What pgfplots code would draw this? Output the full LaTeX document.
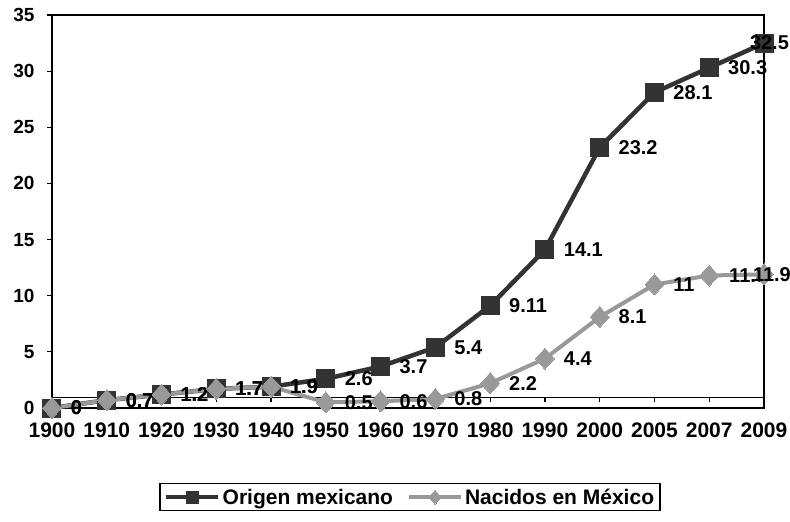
\documentclass[border=0pt]{standalone}
\usepackage{pgfplots}
\usepackage{pgfplotstable}
\pgfplotsset{compat=1.18}
\usepackage{fontspec}
\setmainfont{Liberation Sans}
\definecolor{sone}{HTML}{333333}
\definecolor{stwo}{HTML}{999999}
\pgfplotstableread{
x y lab dx
0 0 0 19
1 0.7 0.7 19
2 1.2 1.2 19
3 1.7 1.7 19
4 1.9 1.9 19
5 2.6 2.6 19
6 3.7 3.7 19
7 5.4 5.4 19
8 9.11 9.11 19
9 14.1 14.1 19
10 23.2 23.2 19
11 28.1 28.1 19
12 30.3 30.3 19
13 32.5 32.5 -14
}\origen
\pgfplotstableread{
x y lab dx
0 0 0 19
1 0.7 0.7 19
2 1.2 1.2 19
3 1.7 1.7 19
4 1.9 1.9 19
5 0.5 0.5 19
6 0.6 0.6 19
7 0.8 0.8 19
8 2.2 2.2 19
9 4.4 4.4 19
10 8.1 8.1 19
11 11 11 19
12 11.8 11.8 20
13 11.9 11.9 -11
}\nacidos
\begin{document}
\begin{tikzpicture}[font=\bfseries\fontsize{20}{23}\selectfont]
\path[use as bounding box] (-52pt,-114pt) rectangle (738pt,408pt);
\begin{axis}[
  at={(0,0)}, anchor=south west,
  scale only axis, width=712pt, height=393pt,
  xmin=0, xmax=13, ymin=0, ymax=35,
  xtick={0,...,13},
  xticklabels={1900,1910,1920,1930,1940,1950,1960,1970,1980,1990,2000,2005,2007,2009},
  major x tick style={draw=none},
  ytick={0,5,...,35}, ytick pos=left, tick align=outside,
  major tick length=5pt,
  axis line style={line width=1.6pt, black},
  y tick style={line width=1.2pt, black},
  xticklabel style={font=\bfseries\fontsize{21}{24}\selectfont, yshift=-6pt},
  yticklabel style={font=\bfseries\fontsize{19}{22}\selectfont, xshift=-9pt},
  /pgf/number format/assume math mode=true,
  clip=false,
  legend style={at={(axis description cs:0.503,0)}, anchor=north, yshift=-75pt,
    legend columns=2, draw=black, line width=1.4pt, inner xsep=4pt, inner ysep=3pt,
    font=\bfseries\fontsize{21}{24}\selectfont,
    /tikz/every even column/.append style={column sep=12pt}},
  legend image code/.code={\draw[mark repeat=2,mark phase=2] plot coordinates {(0pt,0pt) (26pt,0pt) (52pt,0pt)};},
  nodes near coords,
  point meta=explicit symbolic,
  visualization depends on={\thisrow{dx} \as \dx},
  every node near coord/.append style={anchor=west, inner sep=0pt, xshift=\dx pt, text=black,
    font=\bfseries\fontsize{20}{23}\selectfont},
]
\draw[line width=2.2pt, white] (axis cs:0,0.0) -- (axis cs:0,0.9);
\draw[line width=1.6pt, black] (axis cs:0,0.95) -- (axis cs:13,0.95);
\pgfplotsinvokeforeach{0,...,13}{\draw[line width=1.2pt, black] (axis cs:#1,0.95) -- ++(0pt,-5pt);}
\addplot[color=sone, line width=4.5pt, mark=square*, mark size=9pt,
  mark options={fill=sone, draw=sone, line width=0pt},
  legend image post style={mark size=6pt}]
  table[x=x, y=y, meta=lab] {\origen};
\addlegendentry{Origen mexicano}
\addplot[color=stwo, line width=4pt, mark=diamond*, mark size=10.5pt,
  mark options={fill=stwo, draw=stwo, line width=0pt, xscale=1.2},
  legend image post style={mark size=7pt}]
  table[x=x, y=y, meta=lab] {\nacidos};
\addlegendentry{Nacidos en México}
\end{axis}
\end{tikzpicture}
\end{document}
